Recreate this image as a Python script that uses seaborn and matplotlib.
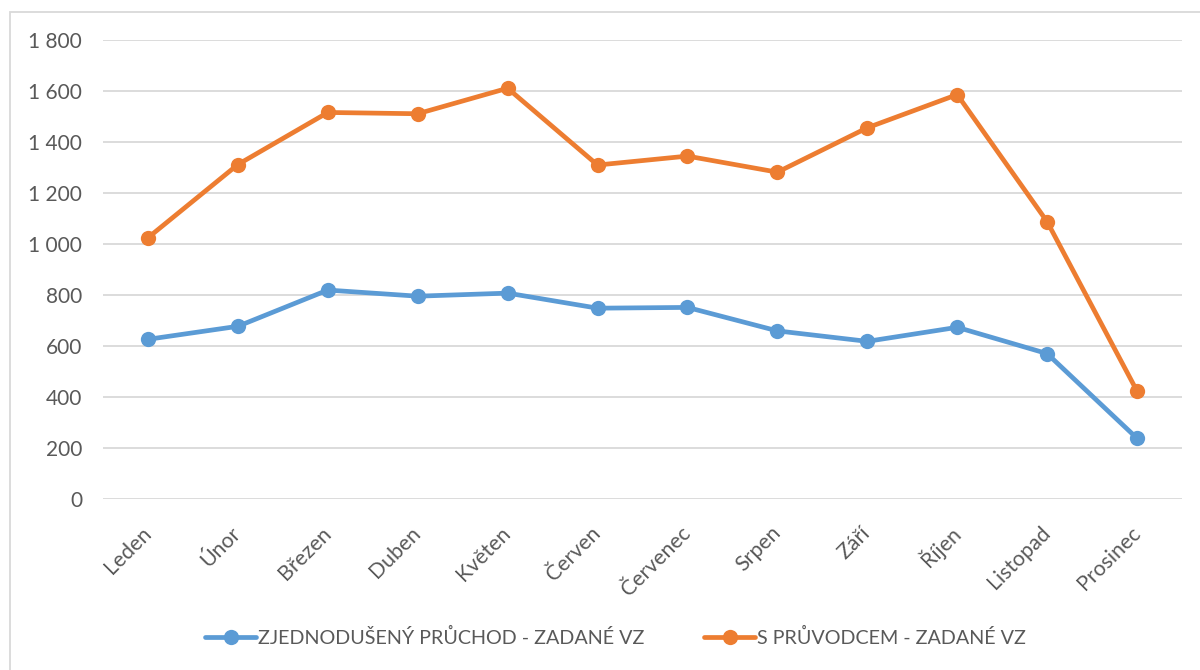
import pandas as pd
import matplotlib.pyplot as plt
import seaborn as sns
from matplotlib.patches import Rectangle

# Data
mesice = ['Leden', 'Únor', 'Březen', 'Duben', 'Květen', 'Červen',
          'Červenec', 'Srpen', 'Září', 'Říjen', 'Listopad', 'Prosinec']
zjednoduseny = [627, 678, 820, 796, 808, 749, 752, 660, 619, 674, 571, 239]
s_pruvodcem = [1025, 1312, 1516, 1511, 1611, 1310, 1345, 1282, 1456, 1586, 1088, 424]
serie = ['ZJEDNODUŠENÝ PRŮCHOD - ZADANÉ VZ', 'S PRŮVODCEM - ZADANÉ VZ']
barvy = ['#5B9BD5', '#ED7D31']
y_ticks = [0, 200, 400, 600, 800, 1000, 1200, 1400, 1600, 1800]

df = pd.DataFrame({
    'mesic': mesice * 2,
    'pocet': zjednoduseny + s_pruvodcem,
    'serie': [serie[0]] * len(mesice) + [serie[1]] * len(mesice),
})

sns.set_style("white")
plt.rcParams['font.family'] = ['Lato', 'DejaVu Sans']
text_col = '#595959'

fig = plt.figure(figsize=(12, 6.7), dpi=100)
ax = fig.add_axes([103 / 1200, 1 - 499.3 / 670, 1079 / 1200, 459.3 / 670])

sns.lineplot(data=df, x='mesic', y='pocet', hue='serie', hue_order=serie,
             palette=barvy, marker='o', markersize=11, markeredgewidth=0,
             linewidth=3.4, sort=False, ax=ax, zorder=3)

ax.set_xlim(-0.5, len(mesice) - 0.5)
ax.set_ylim(0, 1800)
ax.set_yticks(y_ticks)
ax.set_yticklabels([f'{v:,}'.replace(',', ' ') for v in y_ticks])
ax.grid(axis='y', color='#D9D9D9', linewidth=1.3)
ax.set_axisbelow(True)
for s in ax.spines.values():
    s.set_visible(False)
ax.set_xlabel('')
ax.set_ylabel('')
ax.tick_params(axis='y', length=0, pad=15, labelsize=15, labelcolor=text_col)
ax.tick_params(axis='x', length=0, pad=22, labelsize=15.3, labelcolor=text_col)
for lab in ax.get_xticklabels():
    lab.set_rotation(45)
    lab.set_ha('right')
    lab.set_va('center')
    lab.set_rotation_mode('anchor')

# legenda dole
handles, labels = ax.get_legend_handles_labels()
ax.get_legend().remove()
leg = fig.legend(handles, labels, loc='center', bbox_to_anchor=(0.513, 1 - 637 / 670),
                 ncol=2, frameon=False, fontsize=14.2, handlelength=2.6,
                 handletextpad=0.1, columnspacing=3.0, labelcolor=text_col)

# ramecek grafu
fig.patches.append(Rectangle((10 / 1200, -0.05), 1.2, 1 - 11.5 / 670 + 0.05,
                             transform=fig.transFigure, fill=False,
                             edgecolor='#D9D9D9', linewidth=1.3))

fig.savefig('out.png', dpi=100)
